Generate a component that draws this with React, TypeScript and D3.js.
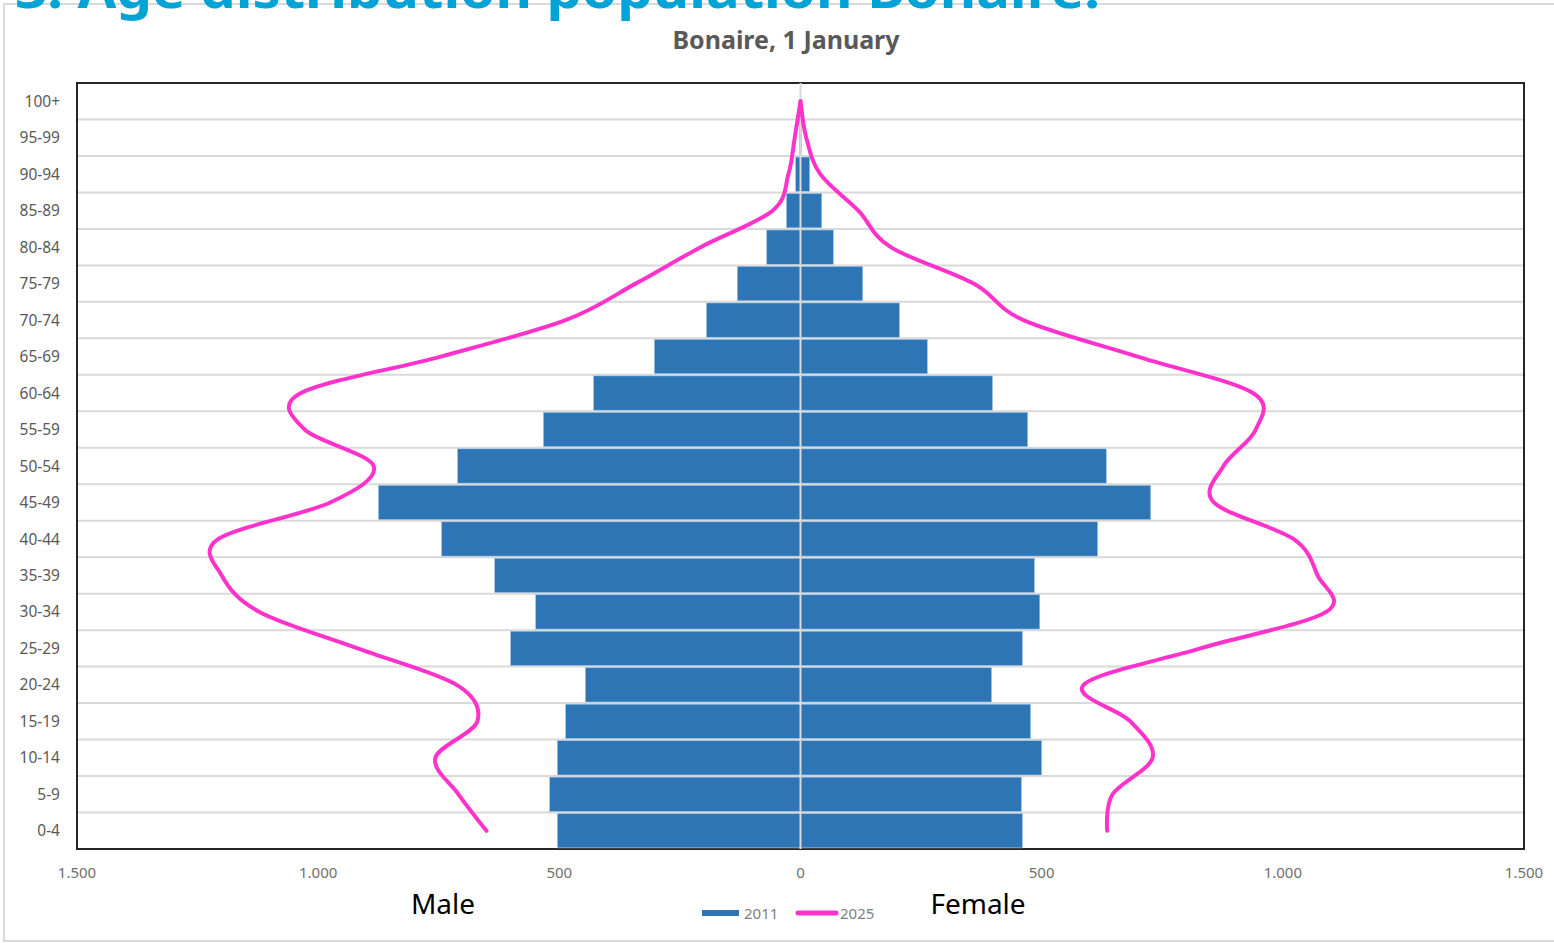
import React from "react";
import * as d3 from "d3";

// Age groups, top to bottom
const ageGroups = [
  "100+", "95-99", "90-94", "85-89", "80-84", "75-79", "70-74", "65-69",
  "60-64", "55-59", "50-54", "45-49", "40-44", "35-39", "30-34", "25-29",
  "20-24", "15-19", "10-14", "5-9", "0-4",
];

// 2011 bars
const male2011 = [0, 2, 10, 29, 70, 131, 195, 303, 429, 533, 711, 875, 744, 634, 549, 601, 446, 487, 504, 520, 504];
const female2011 = [0, 2, 19, 44, 68, 129, 205, 263, 398, 471, 634, 726, 616, 485, 496, 460, 396, 477, 500, 458, 460];

// 2025 lines
const male2025 = [0, 12, 25, 58, 207, 342, 487, 746, 1036, 1028, 885, 975, 1207, 1200, 1122, 918, 713, 670, 757, 709, 651];
const female2025 = [0, 12, 41, 120, 187, 359, 462, 699, 938, 944, 877, 857, 1022, 1072, 1090, 829, 587, 684, 730, 647, 636];

const xTicks = [-1500, -1000, -500, 0, 500, 1000, 1500];

const W = 1554;
const H = 943;
const plot = { left: 77, right: 1524, top: 83, bottom: 849 };

const BLUE = "#2e75b6";
const PINK = "#ff33cc";
const GRID = "#d9d9d9";
const FONT = "'Noto Sans', 'Open Sans', sans-serif";

export default function App() {
  const x = d3.scaleLinear().domain([-1500, 1500]).range([plot.left, plot.right]);
  const y = d3.scaleBand<string>().domain(ageGroups).range([plot.top, plot.bottom]).paddingInner(0.06).paddingOuter(0.03);
  const yb = d3.scaleBand<string>().domain(ageGroups).range([plot.top, plot.bottom]);
  const locale = d3.formatLocale({ decimal: ",", thousands: ".", grouping: [3], currency: ["", ""] });
  const fmt = locale.format(",");

  const line = d3
    .line<[number, number]>()
    .x((d) => d[0])
    .y((d) => d[1])
    .curve(d3.curveCatmullRom.alpha(0));

  const cy = (g: string) => (yb(g) as number) + yb.bandwidth() / 2;
  const malePts: [number, number][] = ageGroups.map((g, i) => [x(-male2025[i]), cy(g)]);
  const femalePts: [number, number][] = ageGroups.map((g, i) => [x(female2025[i]), cy(g)]);

  return (
    <svg width={W} height={H} style={{ position: "absolute", left: 0, top: 0, background: "#fff" }} fontFamily={FONT}>
      <rect x={0} y={0} width={W} height={H} fill="#fff" />
      {/* outer frame */}
      <rect x={4} y={4} width={W + 10} height={937} fill="none" stroke="#d9d9d9" strokeWidth={2} />
      {/* page heading, cropped at top */}
      <text x={15} y={8} fontSize={52} fontWeight={700} fill="#00a3d6" textLength={1085} lengthAdjust="spacingAndGlyphs">
        3. Age distribution population Bonaire.
      </text>
      {/* chart title */}
      <text x={786} y={49} textAnchor="middle" fontSize={25} fontWeight={700} fill="#595959">
        Bonaire, 1 January
      </text>

      {/* gridlines at band boundaries */}
      {ageGroups.slice(1).map((g) => (
        <line key={"g" + g} x1={plot.left} x2={plot.right} y1={yb(g) as number} y2={yb(g) as number} stroke={GRID} strokeWidth={2} />
      ))}

      {/* plot frame */}
      <rect
        x={plot.left}
        y={plot.top}
        width={plot.right - plot.left}
        height={plot.bottom - plot.top}
        fill="none"
        stroke="#262626"
        strokeWidth={2}
      />

      {/* bars */}
      {ageGroups.map((g, i) => (
        <g key={"b" + g}>
          {male2011[i] > 0 && (
            <rect
              x={x(-male2011[i])}
              y={y(g) as number}
              width={x(0) - x(-male2011[i])}
              height={y.bandwidth()}
              fill={BLUE}
              stroke="#9dc3e6"
              strokeWidth={0.6}
            />
          )}
          {female2011[i] > 0 && (
            <rect
              x={x(0)}
              y={y(g) as number}
              width={x(female2011[i]) - x(0)}
              height={y.bandwidth()}
              fill={BLUE}
              stroke="#9dc3e6"
              strokeWidth={0.6}
            />
          )}
        </g>
      ))}

      {/* zero axis */}
      <line x1={x(0)} x2={x(0)} y1={plot.top} y2={plot.bottom} stroke={GRID} strokeWidth={2} />

      {/* 2025 lines */}
      <path d={line(malePts) || ""} fill="none" stroke={PINK} strokeWidth={4} strokeLinecap="round" strokeLinejoin="round" />
      <path d={line(femalePts) || ""} fill="none" stroke={PINK} strokeWidth={4} strokeLinecap="round" strokeLinejoin="round" />

      {/* y labels */}
      {ageGroups.map((g) => (
        <text key={"y" + g} x={60} y={cy(g)} dy="0.36em" textAnchor="end" fontSize={15.5} fill="#595959">
          {g}
        </text>
      ))}

      {/* x labels */}
      {xTicks.map((t) => (
        <text key={"x" + t} x={x(t)} y={878} textAnchor="middle" fontSize={15} fill="#6f6f6f">
          {fmt(Math.abs(t))}
        </text>
      ))}

      {/* sex labels */}
      <text x={443} y={914} textAnchor="middle" fontSize={28} fill="#000">
        Male
      </text>
      <text x={978} y={914} textAnchor="middle" fontSize={28} fill="#000">
        Female
      </text>

      {/* legend */}
      <rect x={702} y={910} width={37} height={6} fill={BLUE} />
      <text x={744} y={919} fontSize={15} fill="#7f7f7f">2011</text>
      <line x1={798} x2={836} y1={913} y2={913} stroke={PINK} strokeWidth={5} strokeLinecap="round" />
      <text x={840} y={919} fontSize={15} fill="#7f7f7f">2025</text>
    </svg>
  );
}
